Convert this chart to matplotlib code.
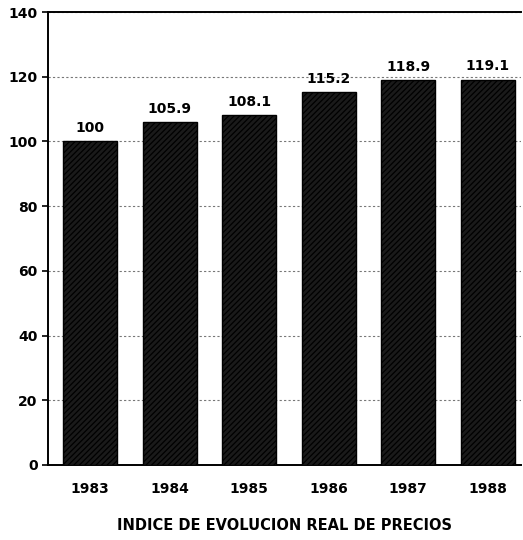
import matplotlib
matplotlib.use("Agg")
import matplotlib.pyplot as plt

years = ["1983", "1984", "1985", "1986", "1987", "1988"]
values = [100, 105.9, 108.1, 115.2, 118.9, 119.1]
labels = ["100", "105.9", "108.1", "115.2", "118.9", "119.1"]
yticks = [0, 20, 40, 60, 80, 100, 120, 140]
title = "INDICE DE EVOLUCION REAL DE PRECIOS"

plt.rcParams['font.family'] = ['DejaVu Sans']
plt.rcParams['hatch.color'] = '#8a8a8a'
plt.rcParams['hatch.linewidth'] = 0.9

fig = plt.figure(figsize=(5.23, 5.40), dpi=100)
ax = fig.add_axes([48/523, 1-465/540, (521-48)/523, (465-12)/540])

x = list(range(len(years)))
bars = ax.bar(x, values, width=0.68, color='#1a1a1a', edgecolor='black',
              hatch='//////', linewidth=1.0, zorder=3)
for xi, v, lab in zip(x, values, labels):
    ax.text(xi, v + 2, lab, ha='center', va='bottom', fontsize=10,
            fontweight='bold', color='black')

ax.set_ylim(0, 140)
ax.set_xlim(-0.53, 5.42)
ax.set_yticks(yticks)
ax.set_xticks(x)
ax.set_xticklabels(years)
ax.yaxis.grid(True, linestyle=(0, (2, 2)), color='#777777', linewidth=0.8, zorder=0)
ax.tick_params(axis='both', labelsize=10, width=1.2, length=4)
ax.tick_params(axis='x', length=0, pad=12)
for lab in ax.get_xticklabels() + ax.get_yticklabels():
    lab.set_fontweight('bold')
for s in ['left', 'bottom', 'top']:
    ax.spines[s].set_linewidth(1.4)
ax.spines['right'].set_visible(False)
ax.set_xlabel(title, fontsize=10.5, fontweight='bold', labelpad=16)

fig.savefig("out.png", dpi=100)
